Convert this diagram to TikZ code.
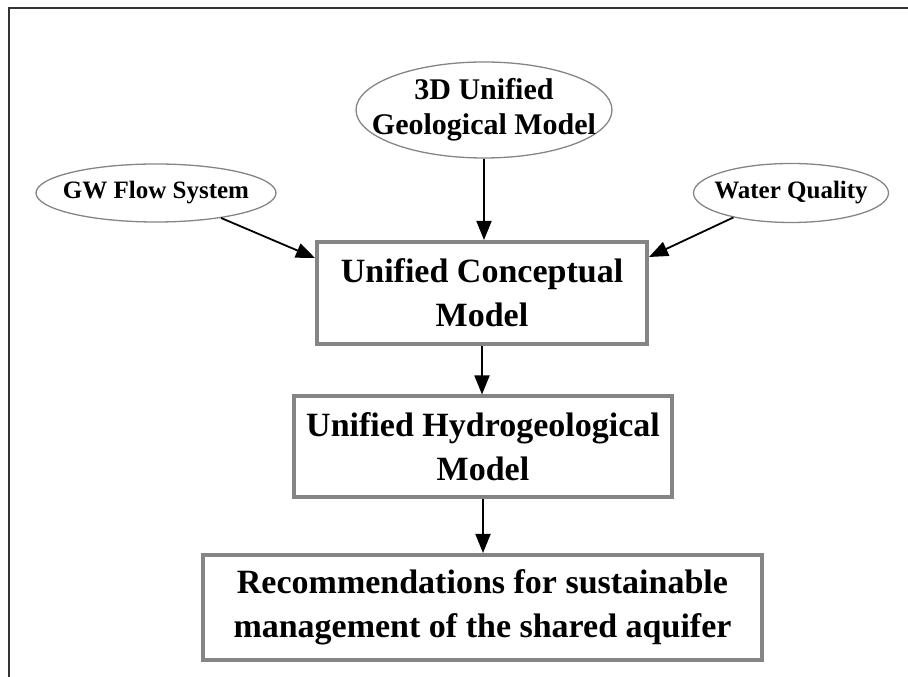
\documentclass[tikz,border=0pt]{standalone}
\usepackage{fontspec}
\setmainfont{Liberation Serif}
\usetikzlibrary{shapes.geometric,arrows.meta}
\definecolor{edgegray}{HTML}{858585}
\tikzset{
  oval/.style={ellipse,draw=edgegray,line width=1.3pt,inner sep=0pt},
  ovaltext/.style={inner sep=0pt,align=center,font=\bfseries\fontsize{25}{28}\selectfont},
  boxnode/.style={rectangle,draw=edgegray,line width=4pt,inner sep=0pt,font=\bfseries\fontsize{34}{44}\selectfont,align=center},
  conn/.style={-{Triangle[length=19pt,width=15pt]},line width=1.8pt,black},
}
\begin{document}
\begin{tikzpicture}[x=1pt,y=1pt]
\useasboundingbox (0,0) rectangle (908,677);
\draw[line width=2pt,color=black!80] (9,0) -- (9,669) -- (908,669);
\node[oval,minimum width=256pt,minimum height=96pt] (geo) at (484,567) {};
\node[ovaltext,font=\bfseries\fontsize{30}{35}\selectfont] (geotext) at (geo.center) {3D Unified\\Geological Model};
\node[oval,minimum width=240pt,minimum height=58pt] (gw) at (156,484) {};
\node[ovaltext] (gwtext) at (gw.center) {GW Flow System};
\node[oval,minimum width=195pt,minimum height=59pt] (wq) at (791,484) {};
\node[ovaltext] (wqtext) at (wq.center) {Water Quality};
\node[boxnode,minimum width=330pt,minimum height=102pt] (ucm) at (482,384) {Unified Conceptual\\Model};
\node[boxnode,minimum width=378pt,minimum height=101pt] (uhm) at (483,230) {Unified Hydrogeological\\Model};
\node[boxnode,minimum width=559pt,minimum height=105pt] (rec) at (482.5,69.5) {Recommendations for sustainable\\management of the shared aquifer};
\coordinate (ucmW) at (ucm.west |- 0,419);
\coordinate (ucmE) at (ucm.east |- 0,420);
\draw[conn] (geo.south) -- (geo.south |- ucm.north);
\draw[conn] (gw.-21) -- (ucmW);
\draw[conn] (wq.-157) -- (ucmE);
\draw[conn] (ucm.south) -- (uhm.north -| ucm.south);
\draw[conn] (uhm.south) -- (rec.north -| uhm.south);
\end{tikzpicture}
\end{document}
